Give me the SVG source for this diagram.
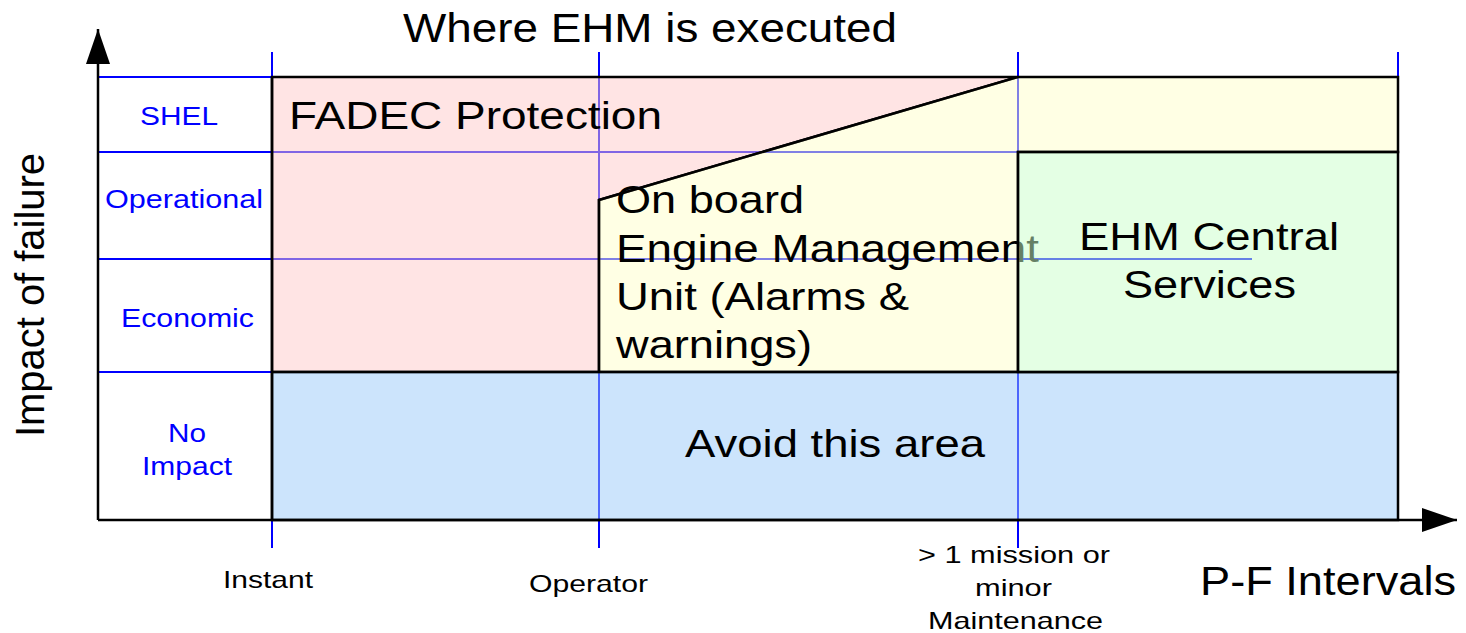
<svg xmlns="http://www.w3.org/2000/svg" width="1466" height="633" viewBox="0 0 1466 633">
<style>
text{font-family:"Liberation Sans",Arial,sans-serif;fill:#000}
.big{font-size:39px}
.row{font-size:26px;fill:#0000ff}
.tick{font-size:24px}
.grid{stroke:#0000ff;stroke-width:2;fill:none}
.shape{stroke:#000;stroke-width:2.5;fill-opacity:0.5;stroke-linejoin:miter}
.axis{stroke:#000;stroke-width:2.5;fill:none}
</style>
<defs>
<marker id="arr" markerWidth="36" markerHeight="26" refX="35" refY="12" orient="auto" markerUnits="userSpaceOnUse">
<path d="M0,0 L35,12 L0,24 Z" fill="#000"/>
</marker>
</defs>
<rect width="1466" height="633" fill="#fff"/>
<g id="grid">
<line class="grid" x1="98" y1="77" x2="1252" y2="77"/>
<line class="grid" x1="98" y1="152" x2="1252" y2="152"/>
<line class="grid" x1="98" y1="259" x2="1252" y2="259"/>
<line class="grid" x1="98" y1="372" x2="272" y2="372"/>
<line class="grid" x1="272" y1="52" x2="272" y2="548"/>
<line class="grid" x1="599" y1="52" x2="599" y2="548"/>
<line class="grid" x1="1018" y1="52" x2="1018" y2="548"/>
<line class="grid" x1="1398" y1="52" x2="1398" y2="80"/>
</g>
<g id="fadec">
<polygon class="shape" fill="#ffc9c9" points="272,77 1018,77 599,200 599,372 272,372"/>
<text class="big" x="289" y="129" textLength="373" lengthAdjust="spacingAndGlyphs">FADEC Protection</text>
</g>
<g id="onboard">
<polygon class="shape" fill="#ffffc9" points="599,200 1018,77 1398,77 1398,152 1018,152 1018,372 599,372"/>
<text class="big" x="616" y="213" textLength="188" lengthAdjust="spacingAndGlyphs">On board</text>
<text class="big" x="616" y="262" textLength="423" lengthAdjust="spacingAndGlyphs">Engine Management</text>
<text class="big" x="616" y="310" textLength="293" lengthAdjust="spacingAndGlyphs">Unit (Alarms &amp;</text>
<text class="big" x="616" y="358" textLength="196" lengthAdjust="spacingAndGlyphs">warnings)</text>
</g>
<g id="avoid">
<rect class="shape" fill="#99c9f9" x="272" y="372" width="1126" height="148"/>
<text class="big" x="685" y="457" textLength="300" lengthAdjust="spacingAndGlyphs">Avoid this area</text>
</g>
<g id="central">
<rect class="shape" fill="#c9ffc9" x="1018" y="152" width="380" height="220"/>
<text class="big" x="1079" y="250" textLength="260" lengthAdjust="spacingAndGlyphs">EHM Central</text>
<text class="big" x="1123" y="298" textLength="173" lengthAdjust="spacingAndGlyphs">Services</text>
</g>
<g id="connectors">
<line class="axis" x1="272" y1="77" x2="272" y2="520"/>
<line class="axis" x1="98" y1="520" x2="98" y2="29" marker-end="url(#arr)"/>
<line class="axis" x1="98" y1="520" x2="1457" y2="520" marker-end="url(#arr)"/>
</g>
<g id="rows">
<text class="row" x="140" y="125" textLength="78" lengthAdjust="spacingAndGlyphs">SHEL</text>
<text class="row" x="105" y="208" textLength="158" lengthAdjust="spacingAndGlyphs">Operational</text>
<text class="row" x="121" y="327" textLength="133" lengthAdjust="spacingAndGlyphs">Economic</text>
<text class="row" x="168" y="442" textLength="38" lengthAdjust="spacingAndGlyphs">No</text>
<text class="row" x="142" y="475" textLength="90" lengthAdjust="spacingAndGlyphs">Impact</text>
</g>
<g id="ticks">
<text class="tick" x="223" y="588" textLength="90" lengthAdjust="spacingAndGlyphs">Instant</text>
<text class="tick" x="529" y="592" textLength="119" lengthAdjust="spacingAndGlyphs">Operator</text>
<text class="tick" x="918" y="563" textLength="192" lengthAdjust="spacingAndGlyphs">&gt; 1 mission or</text>
<text class="tick" x="975" y="596" textLength="77" lengthAdjust="spacingAndGlyphs">minor</text>
<text class="tick" x="928" y="629" textLength="175" lengthAdjust="spacingAndGlyphs">Maintenance</text>
</g>
<g id="titles">
<text style="font-size:40px" x="403" y="42" textLength="494" lengthAdjust="spacingAndGlyphs">Where EHM is executed</text>
<text style="font-size:40px" x="1200" y="595" textLength="256" lengthAdjust="spacingAndGlyphs">P-F Intervals</text>
<text style="font-size:40px" transform="translate(44,437) rotate(-90)" x="0" y="0" textLength="284" lengthAdjust="spacingAndGlyphs">Impact of failure</text>
</g>
</svg>
